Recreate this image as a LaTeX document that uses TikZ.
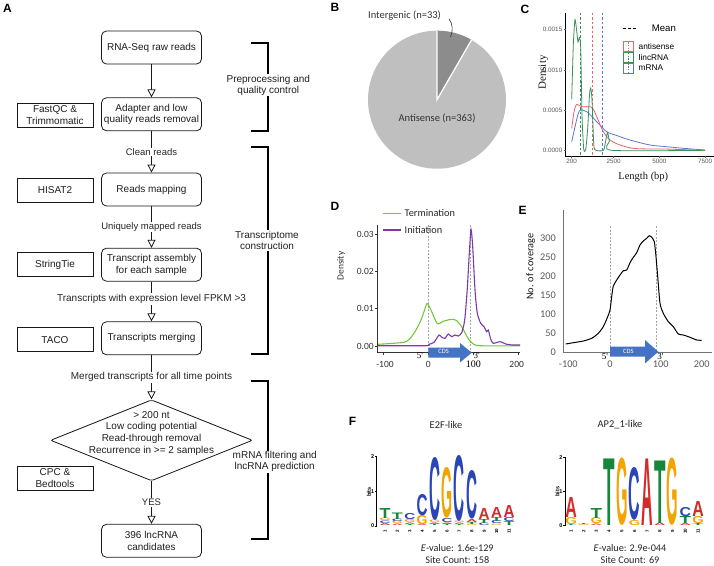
\documentclass[tikz,border=0pt]{standalone}
\usepackage{fontspec}
\setmainfont{Liberation Sans}
\newfontfamily\calfont{Carlito}
\newfontfamily\serfont{Liberation Serif}
\usepackage{graphicx}
\usetikzlibrary{arrows.meta,shapes.geometric}
\definecolor{logoA}{HTML}{D42A2A}
\definecolor{logoC}{HTML}{2A45B5}
\definecolor{logoG}{HTML}{F4A400}
\definecolor{logoT}{HTML}{15873C}
\definecolor{pieL}{HTML}{BFBFBF}
\definecolor{pieD}{HTML}{8C8C8C}
\definecolor{cRed}{HTML}{F0606A}
\definecolor{cGreen}{HTML}{3A8F5C}
\definecolor{cBlue}{HTML}{5A78D0}
\definecolor{dGreen}{HTML}{72C83A}
\definecolor{dPurple}{HTML}{7A3BA8}
\definecolor{cdsBlue}{HTML}{4472C4}
\definecolor{axGray}{HTML}{595959}
\newcommand\logocol[4]{%
  \xdef\logoy{#2}%
  \foreach \L/\H in {#4}{%
    \node[anchor=south, inner sep=0pt, outer sep=0pt, text=logo\L, font=\bfseries] at (#1,\logoy) {\resizebox{#3pt}{\H pt}{\L}};
    \pgfmathsetmacro\logotmp{\logoy-\H}\xdef\logoy{\logotmp}}}
\begin{document}
\begin{tikzpicture}[x=1pt,y=-1pt,
  box/.style={draw=black!90, line width=0.8pt, rounded corners=5pt, minimum width=100pt, minimum height=33pt, align=center, inner sep=1pt, font=\fontsize{10}{11.5}\selectfont, text=black!88},
  tool/.style={draw=black!90, line width=0.8pt, minimum width=76pt, minimum height=24pt, align=center, inner sep=1pt, font=\fontsize{10}{11.5}\selectfont, text=black!88},
  flow/.style={draw=black!90, line width=0.8pt, -{Triangle[open, length=8pt, width=8pt, fill=white]}},
  elab/.style={fill=white, inner sep=1pt, font=\fontsize{9.5}{11}\selectfont, text=black!85},
  brk/.style={line width=2pt, black},
  blab/.style={fill=white, inner sep=1pt, align=center, font=\fontsize{10}{11}\selectfont, text=black!88},
  plab/.style={font=\fontsize{12}{12}\selectfont\bfseries},
  cal/.style={font=\calfont\fontsize{#1}{#1}\selectfont},
  tick/.style={font=\fontsize{6.3}{7}\selectfont, text=axGray},
  dtick/.style={font=\calfont\fontsize{9.5}{10}\selectfont, text=black!80},
  etick/.style={font=\calfont\fontsize{10.3}{11}\selectfont, text=axGray},
  ser/.style={font=\serfont\fontsize{#1}{#1}\selectfont},
  gdash/.style={draw=black!35, line width=0.7pt, dash pattern=on 2pt off 1.5pt},
  ltick/.style={font=\bfseries\fontsize{5.5}{6}\selectfont},
  lnum/.style={font=\bfseries\fontsize{4.5}{5}\selectfont, rotate=90},
]
\useasboundingbox (0,0) rectangle (714,565);
\fill[white] (0,0) rectangle (714,565);

% ---------------- Panel A ----------------
\node[plab] (lA) at (7.5,8) {A};
\node[box] (b1) at (151.5,47.5) {RNA-Seq raw reads};
\node[box] (b2) at (151.5,114.3) {Adapter and low\\quality reads removal};
\node[box] (b3) at (151.5,189.5) {Reads mapping};
\node[box] (b4) at (151.5,264.7) {Transcript assembly\\for each sample};
\node[box] (b5) at (151.5,338.3) {Transcripts merging};
\node[draw=black!90, line width=0.8pt, diamond, minimum width=202pt, minimum height=81pt, inner sep=0pt, rounded corners=2pt] (dia) at (151.5,440.3) {};
\node[align=center, font=\fontsize{10}{11.8}\selectfont, text=black!88] (diat) at (151.5,433.4) {> 200 nt\\Low coding potential\\Read-through removal\\Recurrence in >= 2 samples};
\node[box] (b6) at (151.5,540.8) {396 lncRNA\\candidates};

\node[tool] (t1) at (55,115) {FastQC \&\\Trimmomatic};
\node[tool] (t2) at (55,190) {HISAT2};
\node[tool] (t3) at (55,264.8) {StringTie};
\node[tool] (t4) at (55,339.7) {TACO};
\node[tool] (t5) at (55,478.2) {CPC \&\\Bedtools};

\draw[flow] (b1) -- (b2);
\draw[flow] (b2) -- (b3);
\draw[flow] (b3) -- (b4);
\draw[flow] (b4) -- (b5);
\draw[flow] (b5) -- (dia);
\draw[flow] (dia) -- (b6);
\node[elab] (e1) at (151.5,152) {Clean reads};
\node[elab] (e2) at (151.5,227) {Uniquely mapped reads};
\node[elab, font=\fontsize{10}{11}\selectfont] (e3) at (151.5,299) {Transcripts with expression level FPKM >3};
\node[elab, font=\fontsize{10}{11}\selectfont] (e4) at (151.5,377.3) {Merged transcripts for all time points};
\node[elab] (e5) at (151.5,502.7) {YES};

\draw[brk] (251,42.7) -- (268,42.7) -- (268,130.7) -- (251,130.7);
\draw[brk] (251,146.7) -- (268,146.7) -- (268,354.3) -- (251,354.3);
\draw[brk] (251,381) -- (268,381) -- (268,539.3) -- (251,539.3);
\node[blab] (k1) at (268.3,85.3) {Preprocessing and\\quality control};
\node[blab] (k2) at (267,240.5) {Transcriptome\\construction};
\node[blab] (k3) at (274.7,461.7) {mRNA filtering and\\lncRNA prediction};

% ---------------- Panel B ----------------
\node[plab] (lB) at (335,7.5) {B};
\fill[pieL] (437,99.7) circle (69);
\fill[pieD] (437,99.7) -- (437,30.7) arc[start angle=-90, end angle=-60, radius=69] -- cycle;
\draw[white, line width=1.3pt] (437,30.7) -- (437,99.7) -- (471.5,39.95);
\node[cal=10.5, text=black!80] (tInt) at (404.5,16) {Intergenic (n=33)};
\draw[black!80, line width=0.6pt] (449,19) .. controls (453,24) and (453,31) .. (450.5,37);
\node[cal=10.5, text=black!80] (tAnti) at (437,118) {Antisense (n=363)};

% ---------------- Panel C ----------------
\node[plab] (lC) at (525,9) {C};
\draw[gdash, draw=cGreen, dash pattern=on 2.5pt off 2pt] (580.7,12.7) -- (580.7,156);
\draw[gdash, draw=cRed, dash pattern=on 2.5pt off 2pt] (592.3,12.7) -- (592.3,156);
\draw[gdash, draw=cBlue, dash pattern=on 2.5pt off 2pt] (602.3,12.7) -- (602.3,156);
\draw[cBlue, line width=0.8pt] plot[smooth, tension=0.5] coordinates {(571.7,141.7) (575,127) (579.3,111) (586.7,111.7) (596.7,121.7) (606.7,131.7) (616.7,135.5) (630,140) (650,145) (666.7,146.7) (683.3,148.3) (705,150)};
\draw[cRed, line width=0.8pt] plot[smooth, tension=0.5] coordinates {(571.7,128.3) (574,112) (576.7,104.3) (581.7,106.7) (591.7,107.3) (596.7,116.7) (603.3,131.7) (610,140) (620,145) (633,148.3) (650,149) (663,149) (680,149.5) (705,150.3)};
\draw[cGreen, line width=0.8pt] plot[smooth, tension=0.4] coordinates {(571.7,99.3) (573.3,45) (575,19.5) (576.8,32) (578,42) (579.5,37.5) (580.7,48) (582,115) (583.7,149) (585.7,149.5) (587.7,128) (589.5,95) (590.7,88) (592,100) (593.8,145) (596,150.3) (603.5,150.3) (605.6,141) (607.5,132.5) (609.4,141) (611.5,150.3) (705,150.3)};
\draw[black, line width=0.8pt] (565.7,12.7) -- (565.7,156) -- (714,156);
\foreach \yy/\lab in {29.3/0.0015,70/0.0010,110.3/0.0005,150.3/0.0000}
  \draw[axGray, line width=0.5pt] (563.5,\yy) -- (565.7,\yy) node[tick, anchor=east, pos=0, inner sep=1pt] {\lab};
\foreach \xx/\lab in {571.7/200,613.7/2500,659.3/5000,705/7500}
  \draw[axGray, line width=0.5pt] (\xx,156) -- (\xx,158.2) node[tick, anchor=north, inner sep=1pt] {\lab};
\node[ser=10.5, text=black!90] (cx) at (643.3,176.7) {Length (bp)};
\node[ser=11, text=black!90, rotate=90] (cy) at (543.3,72.5) {Density};
\draw[black, line width=1.1pt, dash pattern=on 3pt off 2pt] (622.7,28.3) -- (637,28.3);
\node[anchor=west, inner sep=0pt, font=\fontsize{9.6}{10}\selectfont] (cm) at (651.7,28.3) {Mean};
\foreach \yy/\cc/\lab in {46.7/cRed/antisense,57.3/cGreen/lincRNA,68/cBlue/mRNA}{
  \draw[\cc, line width=0.6pt] (623.5,\yy-5) rectangle (633,\yy+5);
  \draw[\cc, line width=0.7pt, dash pattern=on 1.5pt off 1.2pt] (628.2,\yy-4.5) -- (628.2,\yy+4.5);
  \node[anchor=west, inner sep=0pt, font=\fontsize{8.3}{9}\selectfont] at (638.5,\yy) {\lab};
}

% ---------------- Panel D ----------------
\node[plab] (lD) at (335,206.7) {D};
\draw[gdash] (428.3,225) -- (428.3,352.3);
\draw[gdash] (470.7,225) -- (470.7,352.3);
\draw[dGreen, line width=1.1pt] plot[smooth, tension=0.5] coordinates {(377.3,344.3) (393.3,343.3) (406.7,341.3) (415,331.7) (421.7,318.3) (426,305.5) (427.7,304) (431.7,311.7) (437.3,323.5) (443.3,321.2) (451.7,319.3) (456.7,320.7) (461.7,326.7) (466.7,336) (471.7,342.7) (480,345.7) (520,345.7)};
\draw[dPurple, line width=1.1pt] plot[smooth, tension=0.4] coordinates {(377.3,345.7) (426,345.7) (429,344.3) (434,342.3) (439,335) (441.7,337.3) (445,338.3) (448.3,334) (451.7,336.7) (455,335) (458.3,336) (461.7,332.7) (464.7,320) (467.2,290) (469.3,253.3) (471,229.3) (472.7,246.7) (475,290) (477.3,313.3) (480.7,323.3) (484,326.7) (486.7,331.7) (488.3,330) (490.7,339.3) (493.3,343.3) (500,341.7) (506.7,344.3) (513.3,345) (520,345)};
\draw[black!80, line width=0.9pt] (377.3,225) -- (377.3,352.3) -- (520,352.3);
\foreach \yy/\lab in {234/0.03,271/0.02,308.7/0.01,346/0.00}
  \draw[black!80, line width=0.6pt] (375,\yy) -- (377.3,\yy) node[dtick, anchor=east, pos=0, inner sep=1pt] {\lab};
\foreach \xx/\lab in {383.3/-100,428.3/0,473.3/100,518.3/200}
  \draw[black!80, line width=0.6pt] (\xx,352.3) -- (\xx,354.5);
\node[dtick] at (385,364.3) {-100};
\node[dtick] at (428.3,364.3) {0};
\node[ser=10] at (473.3,364.3) {100};
\node[dtick] at (516.7,364.3) {200};
\node[dtick, rotate=90] (dy) at (341,266) {Density};
\fill[cdsBlue] (428.3,347.7) -- (460,347.7) -- (460,343) -- (471.7,352.7) -- (460,362.4) -- (460,357.7) -- (428.3,357.7) -- cycle;
\node[cal=6.5, text=white] (dcds) at (443.7,351.8) {CDS};
\node[ser=9] at (420,356) {5'};
\node[ser=9] at (476.7,356) {3'};
\draw[dGreen, line width=1.6pt] (382.7,213.3) -- (401,213.3);
\node[anchor=west, inner sep=0pt, cal=10.3, text=black!85] at (404.5,213.3) {Termination};
\draw[dPurple, line width=1.6pt] (382.7,230) -- (401,230);
\node[anchor=west, inner sep=0pt, cal=10.3, text=black!85] at (404.5,230) {Initiation};

% ---------------- Panel E ----------------
\node[plab] (lE) at (522.5,210) {E};
\draw[gdash] (610,226) -- (610,352.7);
\draw[gdash] (656.7,226) -- (656.7,352.7);
\draw[black, line width=1pt] plot[smooth, tension=0.4] coordinates {(565.7,344) (573.3,342.7) (583.3,341) (591.7,338.3) (598.3,333.3) (603.3,326.7) (607.7,316.7) (610,310) (611.7,296.7) (613.3,286) (616.7,280) (620,275) (623.3,270.7) (626.7,270) (630,262.7) (633.3,257.3) (636.7,252.7) (640,245) (643.3,241) (646.7,238.3) (649.3,235.7) (651.7,237.3) (654.3,241.7) (656,256.7) (657.7,276.7) (660,303.3) (663.3,313.3) (668.3,321.7) (673.3,326.7) (678.3,334) (683.3,335) (690,337.3) (696.7,340) (701.7,340.3)};
\draw[black!55, line width=0.8pt] (563.3,210) -- (563.3,352.7) -- (711.7,352.7);
\foreach \yy/\lab in {237.7/300,256.7/250,276/200,295/150,314.3/100,333.3/50,352.3/0}
  \node[etick, anchor=east, inner sep=0pt] at (556,\yy) {\lab};
\node[etick] at (568.3,364.3) {-100};
\node[etick] at (610,364.3) {0};
\node[etick] at (660.7,364.3) {100};
\node[etick] at (701.7,364.3) {200};
\node[cal=10.3, text=black!90, rotate=90] (ey) at (530.7,266.7) {No. of coverage};
\fill[cdsBlue] (610,346.7) -- (645,346.7) -- (645,340) -- (658.3,351.7) -- (645,363.4) -- (645,356.7) -- (610,356.7) -- cycle;
\node[cal=6.5, text=white] (ecds) at (628.3,351.2) {CDS};
\node[ser=9] at (605,356.7) {5'};
\node[ser=9] at (660.5,356.7) {3'};

% ---------------- Panel F ----------------
\node[plab] (lF) at (352.5,421) {F};
\node[cal=10.4, text=black!85] (f1) at (446,425) {E2F-like};
\node[cal=10.4, text=black!85] (f2) at (620,425) {AP2\_1-like};
% left logo axis
\draw[black, line width=0.6pt] (376.7,456.7) -- (376.7,526);
\foreach \yy/\lab in {456.7/2,491.3/1,526/0}
  \draw[black, line width=0.6pt] (375,\yy) -- (376.7,\yy) node[ltick, anchor=east, pos=0, inner sep=0.5pt] {\lab};
\node[ltick, rotate=90] at (369,492) {bits};
\logocol{385}{525.5}{11}{A/2,C/2.5,G/2.5,T/10}
\logocol{397.4}{525.5}{11}{A/1.5,G/2.5,C/2.5,T/6.5}
\logocol{409.8}{525.5}{11}{T/1,A/1.5,G/3,C/6}
\logocol{422.2}{525.5}{11}{A/1,G/9,C/21}
\logocol{434.6}{525.5}{11}{T/1.5,A/1.5,G/2.5,C/62}
\logocol{447}{525.5}{11}{T/1.5,A/1.5,C/4,G/50}
\logocol{459.4}{525.5}{11}{T/1,A/1.5,G/1.5,C/65}
\logocol{471.8}{525.5}{11}{G/1.5,T/2,A/3,C/48}
\logocol{484.2}{525.5}{11}{C/2.5,T/4,A/11}
\logocol{496.6}{525.5}{11}{G/1.5,C/3,T/4,A/10}
\logocol{509}{525.5}{11}{T/4,C/4,A/12}
\foreach \i in {1,...,11}
  \node[lnum] at ({385+(\i-1)*12.4},531) {\i};
% right logo axis
\draw[black, line width=0.6pt] (565,457.3) -- (565,525.7);
\foreach \yy/\lab in {457.3/2,491.5/1,525.7/0}
  \draw[black, line width=0.6pt] (563.3,\yy) -- (565,\yy) node[ltick, anchor=east, pos=0, inner sep=0.5pt] {\lab};
\node[ltick, rotate=90] at (557.5,491.7) {bits};
\logocol{571}{525.5}{11.5}{T/1,G/7,A/20}
\logocol{583.7}{525.5}{11.5}{G/1,T/1}
\logocol{596.4}{525.5}{11.5}{A/1.5,G/6,T/10}
\logocol{609.1}{525.5}{11.5}{T/66.5}
\logocol{621.8}{525.5}{11.5}{G/66.5}
\logocol{634.5}{525.5}{11.5}{G/5,C/52}
\logocol{647.2}{525.5}{11.5}{A/66.5}
\logocol{659.9}{525.5}{11.5}{A/2.5,T/62.5}
\logocol{672.6}{525.5}{11.5}{G/66.5}
\logocol{685.3}{525.5}{11.5}{A/2,T/7,C/9}
\logocol{698}{525.5}{11.5}{T/2,G/7,A/15}
\foreach \i in {1,...,11}
  \node[lnum] at ({571+(\i-1)*12.7},531) {\i};
\node[cal=10.2, text=black!85] (ev1) at (457.3,547.5) {\textit{E}-value: 1.6e-129};
\node[cal=10.2, text=black!85] (sc1) at (457.3,559.8) {Site Count: 158};
\node[cal=10.2, text=black!85] (ev2) at (630,547.5) {\textit{E}-value: 2.9e-044};
\node[cal=10.2, text=black!85] (sc2) at (630,559.8) {Site Count: 69};
\end{tikzpicture}
\end{document}
